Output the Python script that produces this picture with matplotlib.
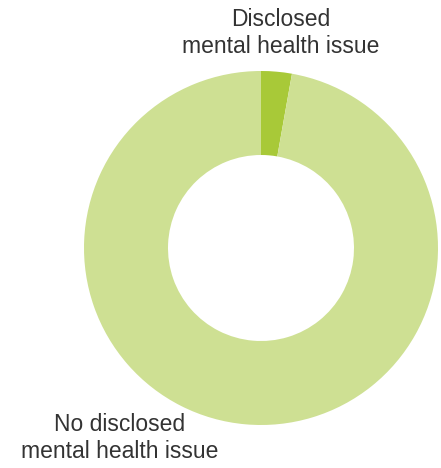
import matplotlib
matplotlib.use('Agg')
import matplotlib.pyplot as plt

# ===== DADOS =====
categorias = ['Disclosed\nmental health issue', 'No disclosed\nmental health issue']
percentuais = [2.8, 97.2]
cores = ['#a8c938', '#cee093']

plt.rcParams['font.family'] = ['Liberation Sans', 'DejaVu Sans']

fig = plt.figure(figsize=(4.41, 4.68), dpi=100)
ax = fig.add_axes([0, 0, 1, 1])

# pie em coordenadas de pixel (y para cima)
ax.pie(percentuais, colors=cores, startangle=90, counterclock=False,
       radius=177, center=(261, 468 - 248),
       wedgeprops=dict(width=84, linewidth=0))

ax.set_xlim(0, 441)
ax.set_ylim(0, 468)
ax.axis('off')

ax.text(281, 468 - 33, categorias[0], ha='center', va='center',
        fontsize=16.5, color='#333333', linespacing=1.22)
ax.text(120, 468 - 438, categorias[1], ha='center', va='center',
        fontsize=16.5, color='#333333', linespacing=1.22)

fig.savefig('out.png', dpi=100)
plt.close(fig)
